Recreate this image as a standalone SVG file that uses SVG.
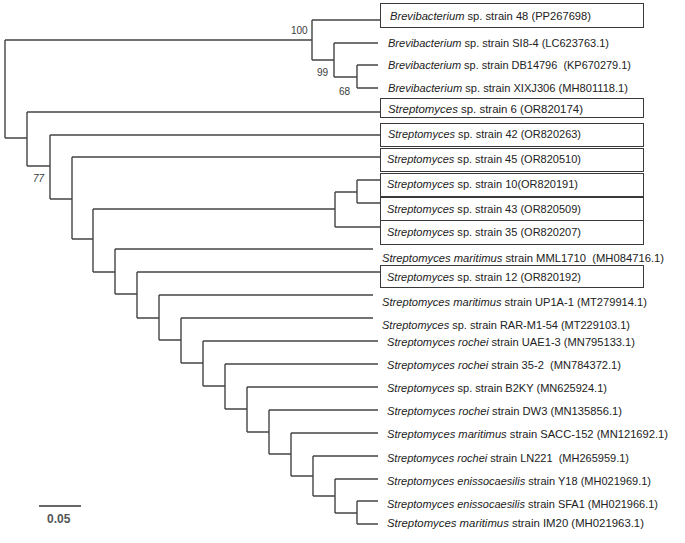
<svg xmlns="http://www.w3.org/2000/svg" width="685" height="543" viewBox="0 0 685 543">
<style>
.t{font-family:"Liberation Sans",Arial,sans-serif;font-size:11.5px;fill:#222;white-space:pre}
.i{font-style:italic}
.b{font-family:"Liberation Sans",Arial,sans-serif;font-size:10px;fill:#3a3a3a}
.box{fill:#fff;stroke:#3a3a3a;stroke-width:1}
.br{fill:none;stroke:#444;stroke-width:1.4}
</style>
<rect width="685" height="543" fill="#fff"/>
<g id="connectors" class="br">
<path d="M5,40V138M5,40H312M5,138H27"/>
<path d="M312,20V60M312,20H380M312,60H334"/>
<path d="M334,43V77M334,43H378M334,77H357"/>
<path d="M357,65V88M357,65H378M357,88H378"/>
<path d="M27,112V166M27,112H380M27,166H50"/>
<path d="M50,135V199M50,135H380M50,199H72"/>
<path d="M72,157V239M72,157H380M72,239H93"/>
<path d="M93,209V272M93,209H335M93,272H115"/>
<path d="M335,192V227M335,192H357M335,227H380"/>
<path d="M357,180V203M357,180H380M357,203H380"/>
<path d="M115,249V294M115,249H373M115,294H137"/>
<path d="M137,272V318M137,272H380M137,318H159"/>
<path d="M159,295V340M159,295H373M159,340H181"/>
<path d="M181,318V363M181,318H373M181,363H203"/>
<path d="M203,341V386M203,341H378M203,386H225"/>
<path d="M225,364V409M225,364H378M225,409H247"/>
<path d="M247,387V432M247,387H378M247,432H269"/>
<path d="M269,410V454M269,410H378M269,454H291"/>
<path d="M291,433V476M291,433H378M291,476H313"/>
<path d="M313,456V496M313,456H378M313,496H335"/>
<path d="M335,479V513M335,479H378M335,513H357"/>
<path d="M357,501V524M357,501H378M357,524H378"/>
</g>
<g id="bootstrap">
<text class="b" x="291" y="34">100</text>
<text class="b" x="317" y="76">99</text>
<text class="b" x="339" y="95">68</text>
<text class="b" x="33" y="182" font-style="italic">77</text>
</g>
<g id="n48"><rect class="box" x="380.5" y="3.5" width="263" height="24"/><text class="t" x="390" y="19.5" textLength="201" lengthAdjust="spacingAndGlyphs"><tspan class="i">Brevibacterium</tspan> sp. strain 48 (PP267698)</text></g>
<g id="nSI84"><text class="t" x="388" y="47" textLength="221" lengthAdjust="spacingAndGlyphs"><tspan class="i">Brevibacterium</tspan> sp. strain SI8-4 (LC623763.1)</text></g>
<g id="nDB14796"><text class="t" x="388" y="69" textLength="243" lengthAdjust="spacingAndGlyphs"><tspan class="i">Brevibacterium</tspan> sp. strain DB14796  (KP670279.1)</text></g>
<g id="nXIXJ306"><text class="t" x="388" y="92" textLength="240" lengthAdjust="spacingAndGlyphs"><tspan class="i">Brevibacterium</tspan> sp. strain XIXJ306 (MH801118.1)</text></g>
<g id="n6"><rect class="box" x="380.5" y="98.5" width="263" height="19"/><text class="t" x="388" y="113" textLength="195" lengthAdjust="spacingAndGlyphs"><tspan class="i">Streptomyces</tspan> sp. strain 6 (OR820174)</text></g>
<g id="n42"><rect class="box" x="380.5" y="123.5" width="263" height="23"/><text class="t" x="388" y="138" textLength="193" lengthAdjust="spacingAndGlyphs"><tspan class="i">Streptomyces</tspan> sp. strain 42 (OR820263)</text></g>
<g id="n45"><rect class="box" x="380.5" y="148.5" width="263" height="23"/><text class="t" x="387" y="163" textLength="194" lengthAdjust="spacingAndGlyphs"><tspan class="i">Streptomyces</tspan> sp. strain 45 (OR820510)</text></g>
<g id="n10"><rect class="box" x="380.5" y="173.5" width="263" height="23"/><text class="t" x="387" y="188" textLength="191" lengthAdjust="spacingAndGlyphs"><tspan class="i">Streptomyces</tspan> sp. strain 10(OR820191)</text></g>
<g id="n43"><rect class="box" x="380.5" y="197.5" width="263" height="23"/><text class="t" x="387" y="213" textLength="194" lengthAdjust="spacingAndGlyphs"><tspan class="i">Streptomyces</tspan> sp. strain 43 (OR820509)</text></g>
<g id="n35"><rect class="box" x="380.5" y="220.5" width="263" height="24"/><text class="t" x="387" y="236" textLength="194" lengthAdjust="spacingAndGlyphs"><tspan class="i">Streptomyces</tspan> sp. strain 35 (OR820207)</text></g>
<g id="nMML1710"><text class="t" x="382" y="262" textLength="282" lengthAdjust="spacingAndGlyphs"><tspan class="i">Streptomyces maritimus</tspan> strain MML1710  (MH084716.1)</text></g>
<g id="n12"><rect class="box" x="380.5" y="265.5" width="263" height="22"/><text class="t" x="387" y="281" textLength="194" lengthAdjust="spacingAndGlyphs"><tspan class="i">Streptomyces</tspan> sp. strain 12 (OR820192)</text></g>
<g id="nUP1A1"><text class="t" x="382" y="306" textLength="265" lengthAdjust="spacingAndGlyphs"><tspan class="i">Streptomyces maritimus</tspan> strain UP1A-1 (MT279914.1)</text></g>
<g id="nRARM154"><text class="t" x="382" y="329" textLength="248" lengthAdjust="spacingAndGlyphs"><tspan class="i">Streptomyces</tspan> sp. strain RAR-M1-54 (MT229103.1)</text></g>
<g id="nUAE13"><text class="t" x="387" y="346" textLength="248" lengthAdjust="spacingAndGlyphs"><tspan class="i">Streptomyces rochei</tspan> strain UAE1-3 (MN795133.1)</text></g>
<g id="n352"><text class="t" x="387" y="369" textLength="234" lengthAdjust="spacingAndGlyphs"><tspan class="i">Streptomyces rochei</tspan> strain 35-2  (MN784372.1)</text></g>
<g id="nB2KY"><text class="t" x="387" y="392" textLength="220" lengthAdjust="spacingAndGlyphs"><tspan class="i">Streptomyces</tspan> sp. strain B2KY (MN625924.1)</text></g>
<g id="nDW3"><text class="t" x="387" y="415" textLength="235" lengthAdjust="spacingAndGlyphs"><tspan class="i">Streptomyces rochei</tspan> strain DW3 (MN135856.1)</text></g>
<g id="nSACC152"><text class="t" x="387" y="438" textLength="281" lengthAdjust="spacingAndGlyphs"><tspan class="i">Streptomyces maritimus</tspan> strain SACC-152 (MN121692.1)</text></g>
<g id="nLN221"><text class="t" x="387" y="462" textLength="242" lengthAdjust="spacingAndGlyphs"><tspan class="i">Streptomyces rochei</tspan> strain LN221  (MH265959.1)</text></g>
<g id="nY18"><text class="t" x="387" y="485" textLength="264" lengthAdjust="spacingAndGlyphs"><tspan class="i">Streptomyces enissocaesilis</tspan> strain Y18 (MH021969.1)</text></g>
<g id="nSFA1"><text class="t" x="387" y="508" textLength="271" lengthAdjust="spacingAndGlyphs"><tspan class="i">Streptomyces enissocaesilis</tspan> strain SFA1 (MH021966.1)</text></g>
<g id="nIM20"><text class="t" x="387" y="527" textLength="257" lengthAdjust="spacingAndGlyphs"><tspan class="i">Streptomyces maritimus</tspan> strain IM20 (MH021963.1)</text></g>
<g id="scale">
<path d="M39,506H81" stroke="#666" stroke-width="1.8" fill="none"/>
<text x="47" y="523" font-family="'Liberation Sans',Arial,sans-serif" font-size="12" font-weight="bold" fill="#555">0.05</text>
</g>
</svg>
